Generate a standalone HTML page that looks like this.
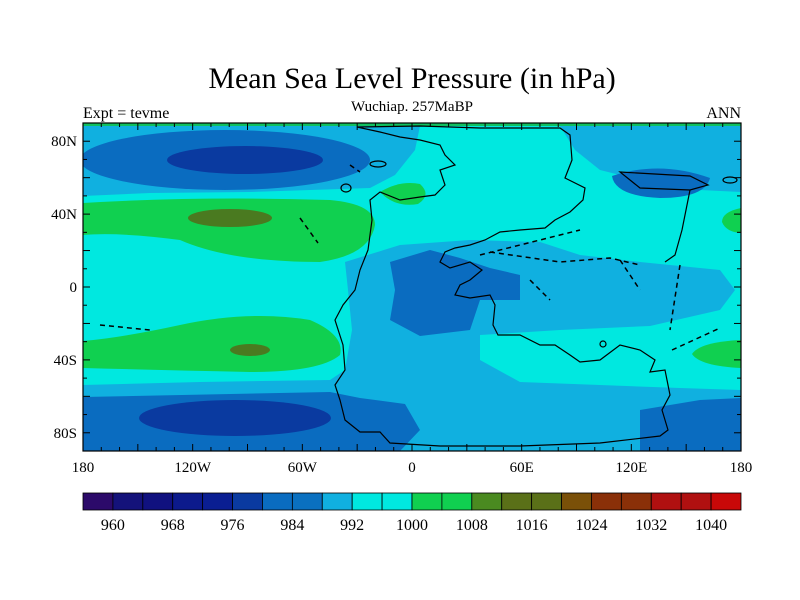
<!DOCTYPE html>
<html><head><meta charset="utf-8"><style>
body{margin:0;background:#fff;}
svg{display:block;font-family:"Liberation Serif",serif;}
</style></head><body>
<svg id="c" width="800" height="600">
<defs><clipPath id="pc"><rect x="83" y="123" width="658" height="328"/></clipPath></defs>
<text x="412" y="88" font-size="30" text-anchor="middle">Mean Sea Level Pressure (in hPa)</text>
<text x="412" y="111" font-size="15" text-anchor="middle">Wuchiap. 257MaBP</text>
<text x="83" y="118" font-size="16">Expt = tevme</text>
<text x="741" y="118" font-size="16" text-anchor="end">ANN</text>
<g clip-path="url(#pc)">
<rect x="83" y="123" width="658" height="328" fill="#00e8e0"/>
<rect x="83" y="123" width="658" height="3" fill="#10c060"/>
<g fill="#10b0e0">
<path d="M83,126 L420,126 L415,150 L395,175 L370,188 L250,192 L150,193 L83,196 Z"/>
<path d="M560,126 L741,126 L741,192 L700,190 L640,180 L600,170 L575,150 Z"/>
<path d="M345,262 L400,245 L470,240 L540,242 L580,255 L640,262 L720,270 L735,290 L720,310 L650,326 L560,330 L480,335 L480,360 L520,382 L600,385 L680,388 L741,390 L741,451 L83,451 L83,385 L200,382 L330,380 L345,370 L352,330 L348,290 Z"/>
</g>
<g fill="#0a6cc0">
<ellipse cx="225" cy="160" rx="145" ry="30"/>
<path d="M83,397 L330,392 L360,398 L405,404 L420,430 L400,451 L83,451 Z"/>
<path d="M390,262 L430,250 L460,258 L490,268 L520,275 L520,300 L480,300 L470,330 L420,336 L390,320 L395,290 Z"/>
<path d="M640,410 L700,400 L741,398 L741,451 L640,451 Z"/>
<path d="M612,176 Q660,160 710,178 Q705,198 660,198 Q615,196 612,176 Z"/>
</g>
<g fill="#0a3aa0">
<ellipse cx="245" cy="160" rx="78" ry="14"/>
<ellipse cx="235" cy="418" rx="96" ry="18"/>
</g>
<g fill="#10d050">
<path d="M83,203 Q200,196 330,200 Q375,204 375,225 Q370,255 320,262 Q230,262 180,240 Q120,232 83,235 Z"/>
<path d="M83,341 Q120,338 180,325 Q250,310 310,320 Q345,335 340,355 Q320,372 250,372 Q160,370 83,368 Z"/>
<path d="M380,192 Q400,180 420,184 Q432,195 418,204 Q395,208 380,192 Z"/>
<path d="M741,208 Q722,212 722,222 Q726,232 741,233 Z"/>
<path d="M741,340 Q700,342 692,354 Q700,366 741,368 Z"/>
</g>
<g fill="#4a7a20">
<ellipse cx="230" cy="218" rx="42" ry="9"/>
<ellipse cx="250" cy="350" rx="20" ry="6"/>
</g>
<g fill="none" stroke="#000" stroke-width="1.2">
<path d="M357,127 L420,126 L480,128 L560,128 L570,135 L572,160 L565,178 L585,188 L583,200 L570,212 L555,220 L545,228 L520,230 L500,232 L485,240 L470,245 L455,248 L445,252 L440,262 L450,268 L470,262 L482,270 L470,280 L460,285 L455,295 L470,298 L490,295 L495,305 L493,325 L498,335 L520,335 L540,345 L555,345 L570,355 L580,362 L600,360 L620,345 L640,350 L655,360 L650,372 L665,370 L670,395 L662,410 L668,430 L660,436 L600,443 L520,446 L440,446 L390,443 L380,432 L360,432 L345,420 L340,400 L335,385 L345,370 L343,345 L335,320 L343,305 L355,290 L360,270 L368,250 L372,220 L370,200 L380,192 L400,200 L420,197 L435,195 L445,185 L440,170 L455,165 L445,155 L440,145 L420,140 L400,137 L380,132 Z"/>
<path d="M620,172 L690,176 L708,185 L690,190 L640,188 Z"/>
<path d="M690,190 L682,230 L675,255 L665,262"/>
<ellipse cx="346" cy="188" rx="5" ry="4"/><ellipse cx="378" cy="164" rx="8" ry="3"/>
<ellipse cx="730" cy="180" rx="7" ry="3"/><ellipse cx="603" cy="344" rx="3" ry="3"/>
</g>
<g fill="none" stroke="#000" stroke-width="1.5" stroke-dasharray="5,4">
<path d="M300,218 L318,243"/>
<path d="M100,325 L150,330"/>
<path d="M480,255 L580,230"/>
<path d="M490,252 L560,262 L610,258 L640,265"/>
<path d="M530,280 L550,300"/>
<path d="M620,260 L640,290"/>
<path d="M680,265 L670,330"/>
<path d="M672,350 L720,328"/>
<path d="M350,165 L360,172"/>
</g>
</g>
<rect x="83" y="123" width="658" height="328" fill="none" stroke="#000" stroke-width="1.2"/>
<g id="axes"></g>
<g id="cbar"></g>
</svg>
<script>
const xTickLabels=["180","120W","60W","0","60E","120E","180"];
const xTickLons=[-180,-120,-60,0,60,120,180];
const yTickLabels=["80N","40N","0","40S","80S"];
const yTickLats=[80,40,0,-40,-80];
const cbLevels=[960,964,968,972,976,980,984,988,992,996,1000,1004,1008,1012,1016,1020,1024,1028,1032,1036,1040];
const cbColors=["#2c0a6a","#14127a","#10117f","#0c1a8c","#0a1e92","#0a3aa0","#0a6cc0","#0a70c0","#10b0e0","#00e8e0","#00e8e0","#10d050","#10d050","#4a8a20","#5a7018","#5a7018","#7a5008","#8a3008","#8a3008","#b01010","#b01010","#c80808"];
const NS="http://www.w3.org/2000/svg";
const X0=83,X1=741,Y0=123,Y1=451;
const xs=lon=>X0+(lon+180)/360*(X1-X0);
const ys=lat=>Y0+(90-lat)/180*(Y1-Y0);
function mk(tag,at,parent){const e=document.createElementNS(NS,tag);for(const k in at)e.setAttribute(k,at[k]);parent.appendChild(e);return e;}
const ax=document.getElementById('axes');
for(let lon=-180;lon<=180;lon+=10){
  const major=lon%30===0;const L=major?7:4;const x=xs(lon);
  let t=mk('line',{x1:x,x2:x,y1:Y1,y2:Y1-L,stroke:'#000'},ax);
  
  
  t=mk('line',{x1:x,x2:x,y1:Y0,y2:Y0+L,stroke:'#000'},ax);
  
  
}
for(let lat=-90;lat<=90;lat+=10){
  const major=lat%20===0;const L=major?7:4;const y=ys(lat);
  let t=mk('line',{x1:X0,x2:X0+L,y1:y,y2:y,stroke:'#000'},ax);
  
  
  t=mk('line',{x1:X1,x2:X1-L,y1:y,y2:y,stroke:'#000'},ax);
  
  
}
xTickLabels.forEach((s,i)=>{const t=mk('text',{x:xs(xTickLons[i]),y:472,'font-size':15,'text-anchor':'middle'},ax);t.textContent=s;
  
  });
yTickLabels.forEach((s,i)=>{const t=mk('text',{x:77,y:ys(yTickLats[i])+5,'font-size':15,'text-anchor':'end'},ax);t.textContent=s;
  
  });
const cb=document.getElementById('cbar');
const bw=(X1-X0)/cbColors.length;
cbColors.forEach((c,i)=>{const r=mk('rect',{x:X0+i*bw,y:493,width:bw,height:17,fill:c,stroke:'#000','stroke-width':0.8},cb);
  
  });
cbLevels.forEach((v,i)=>{if(i%2)return;const t=mk('text',{x:X0+(i+1)*bw,y:530,'font-size':16,'text-anchor':'middle'},cb);t.textContent=v;
  
  });
</script>
</body></html>
